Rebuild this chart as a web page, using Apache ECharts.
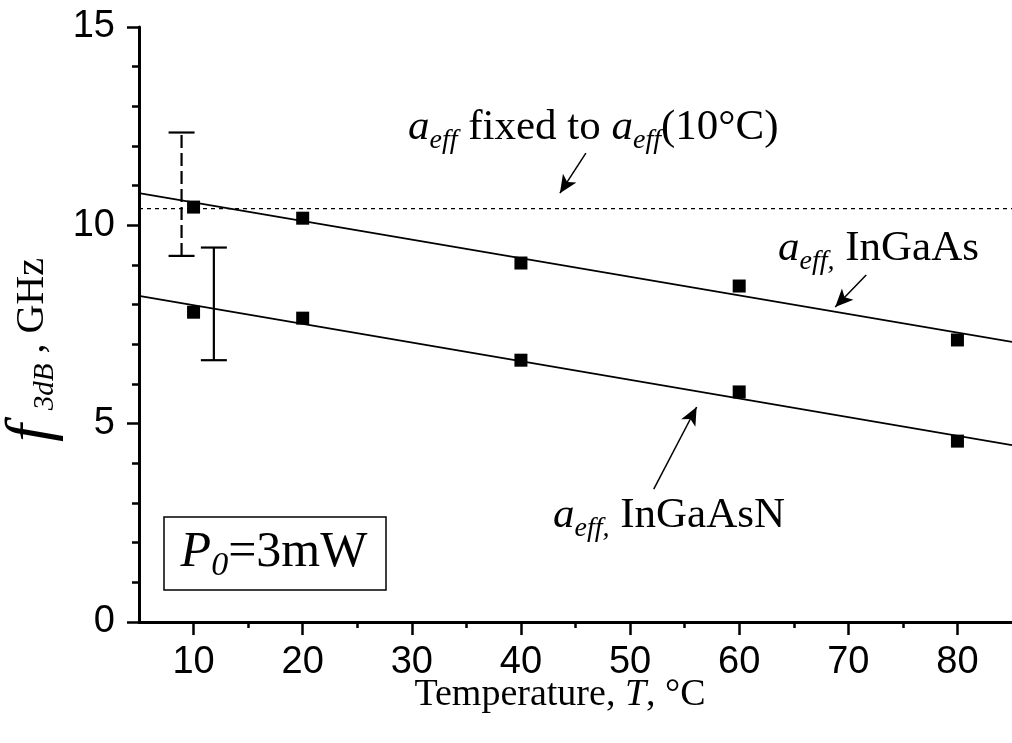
<!DOCTYPE html>
<html>
<head>
<meta charset="utf-8">
<script src="https://cdn.jsdelivr.net/npm/echarts@6/dist/echarts.min.js"></script>
<style>
  html, body { margin: 0; padding: 0; background: #ffffff; }
  #chart { width: 1012px; height: 743px; }
</style>
</head>
<body>
<div id="chart"></div>
<script>
// Measured modulation bandwidth f3dB (GHz) vs. temperature (°C) at P0 = 3 mW
const temps = [10, 20, 40, 60, 80];
const f3dbInGaAs = [10.46, 10.18, 9.05, 8.47, 7.11];
const f3dbInGaAsN = [7.81, 7.66, 6.60, 5.80, 4.56];

// Linear fits (end points of each fitted line)
const fitT = [5, 85];
const fitInGaAs = [10.81, 7.06];
const fitInGaAsN = [8.22, 4.46];

// a_eff held at its 10 °C value
const fixedAeffLevel = 10.42;

// Error bars: position, lower and upper limits
const errT = [8.9, 11.86];
const errLow = [9.23, 6.60];
const errHigh = [12.34, 9.44];

// Axis ticks
const xMajorTicks = [10, 20, 30, 40, 50, 60, 70, 80];
const xMinorTicks = [15, 25, 35, 45, 55, 65, 75];

// Annotation arrows: [from T, from f, to T, to f]
const arrowFixed = [45.95, 11.82, 43.57, 10.81];
const arrowInGaAs = [71.64, 8.75, 68.8, 7.94];
const arrowInGaAsN = [52.17, 3.35, 56.1, 5.42];

const SERIF = '"Liberation Serif", "Times New Roman", serif';
const SANS = '"Liberation Sans", Arial, sans-serif';
const errDash = [[13, 5], null];

const zip = (a, b) => a.map((v, i) => [v, b[i]]);

const richText = (size, subSize, subPad, lead, subLeft) => ({
  i: { fontFamily: SERIF, fontStyle: 'italic', fontSize: lead || size, color: '#000' },
  sub: { fontFamily: SERIF, fontStyle: 'italic', fontSize: subSize, color: '#000', padding: [subPad, 0, 0, subLeft || 0] },
  n: { fontFamily: SERIF, fontSize: size, color: '#000' }
});

const arrowLine = (a) => [
  { coord: [a[0], a[1]], symbol: 'none' },
  { coord: [a[2], a[3]], symbol: 'arrow', symbolSize: [12, 18] }
];

const chart = echarts.init(document.getElementById('chart'), null, { renderer: 'canvas' });

const option = {
  animation: false,
  backgroundColor: '#ffffff',
  grid: { left: 139, top: 27, width: 875, bottom: 121, containLabel: false },
  xAxis: [
    {
      type: 'value', min: 5, max: 85, position: 'bottom',
      axisLine: { show: true, onZero: false, lineStyle: { color: '#000', width: 3 } },
      axisTick: { show: true, customValues: xMajorTicks, length: 13, lineStyle: { color: '#000', width: 2.5 } },
      axisLabel: { show: true, customValues: xMajorTicks, margin: 22, fontFamily: SANS, fontSize: 38, color: '#000' },
      splitLine: { show: false }
    },
    {
      type: 'value', min: 5, max: 85, position: 'bottom', offset: 0,
      axisLine: { show: false },
      axisTick: { show: true, customValues: xMinorTicks, length: 6, lineStyle: { color: '#000', width: 2.5 } },
      axisLabel: { show: false },
      splitLine: { show: false }
    }
  ],
  yAxis: {
    type: 'value', min: 0, max: 15, interval: 5,
    axisLine: { show: true, onZero: false, lineStyle: { color: '#000', width: 3 } },
    axisTick: { show: true, length: 12, lineStyle: { color: '#000', width: 2.5 } },
    minorTick: { show: true, splitNumber: 5, length: 7, lineStyle: { color: '#000', width: 2.5 } },
    axisLabel: { margin: 24, fontFamily: SANS, fontSize: 38, color: '#000' },
    splitLine: { show: false },
    minorSplitLine: { show: false }
  },
  series: [
    {
      name: 'fit InGaAs', type: 'line', data: zip(fitT, fitInGaAs),
      symbol: 'none', lineStyle: { color: '#000', width: 1.7 }, silent: true
    },
    {
      name: 'fit InGaAsN', type: 'line', data: zip(fitT, fitInGaAsN),
      symbol: 'none', lineStyle: { color: '#000', width: 1.7 }, silent: true
    },
    {
      name: 'fixed a_eff', type: 'line',
      data: zip(fitT, fitT.map(() => fixedAeffLevel)),
      symbol: 'none', lineStyle: { color: '#000', width: 1.3, type: [4, 4] }, silent: true
    },
    {
      name: 'InGaAs', type: 'scatter', data: zip(temps, f3dbInGaAs),
      symbol: 'rect', symbolSize: 13, itemStyle: { color: '#000', opacity: 1 },
      markLine: {
        silent: true, animation: false,
        label: { show: false },
        lineStyle: { color: '#000', width: 1.5, type: 'solid' },
        data: [arrowLine(arrowFixed), arrowLine(arrowInGaAs), arrowLine(arrowInGaAsN)]
      }
    },
    {
      name: 'InGaAsN', type: 'scatter', data: zip(temps, f3dbInGaAsN),
      symbol: 'rect', symbolSize: 13, itemStyle: { color: '#000', opacity: 1 }
    },
    {
      name: 'error bars', type: 'custom',
      data: errT.map((t, i) => [t, errLow[i], errHigh[i]]),
      renderItem: function (params, api) {
        const t = api.value(0);
        const lo = api.coord([t, api.value(1)]);
        const hi = api.coord([t, api.value(2)]);
        const half = 13;
        const capStyle = { stroke: '#000', lineWidth: 2.2 };
        return {
          type: 'group',
          children: [
            { type: 'line', shape: { x1: lo[0], y1: lo[1], x2: hi[0], y2: hi[1] },
              style: { stroke: '#000', lineWidth: 2.2, lineDash: errDash[params.dataIndex] } },
            { type: 'line', shape: { x1: lo[0] - half, y1: lo[1], x2: lo[0] + half, y2: lo[1] }, style: capStyle },
            { type: 'line', shape: { x1: hi[0] - half, y1: hi[1], x2: hi[0] + half, y2: hi[1] }, style: capStyle }
          ]
        };
      }
    }
  ],
  graphic: [
    {
      type: 'text', x: 408, y: 128,
      style: {
        text: '{i|a}{sub|eff}{n| fixed to }{i|a}{sub|eff}{n|(10°C)}',
        rich: richText(43, 28, 25), align: 'left', verticalAlign: 'middle'
      }
    },
    {
      type: 'text', x: 778, y: 249,
      style: {
        text: '{i|a}{sub|eff,}{n| InGaAs}',
        rich: richText(43, 28, 25), align: 'left', verticalAlign: 'middle'
      }
    },
    {
      type: 'text', x: 553, y: 516,
      style: {
        text: '{i|a}{sub|eff,}{n| InGaAsN}',
        rich: richText(43, 28, 25), align: 'left', verticalAlign: 'middle'
      }
    },
    {
      type: 'rect', shape: { x: 164, y: 517, width: 222, height: 73 },
      style: { fill: 'none', stroke: '#000', lineWidth: 1.5 }
    },
    {
      type: 'text', x: 274, y: 553,
      style: {
        text: '{i|P}{sub|0}{n|=3mW}',
        rich: richText(50, 34, 26), align: 'center', verticalAlign: 'middle'
      }
    },
    {
      type: 'text', x: 560, y: 695,
      style: {
        text: '{n|Temperature, }{i|T}{n|, °C}',
        rich: richText(38, 38, 0), align: 'center', verticalAlign: 'middle'
      }
    },
    {
      type: 'text', x: 32, y: 258, rotation: Math.PI / 2,
      style: {
        text: '{i|f}{sub|3dB}{n| , GHz}',
        rich: richText(40, 29, 26, 64, 14), align: 'right', verticalAlign: 'middle'
      }
    }
  ]
};

chart.setOption(option);
</script>
</body>
</html>
